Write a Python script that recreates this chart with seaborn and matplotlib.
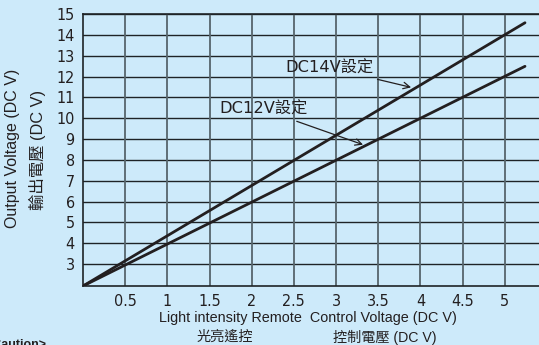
"""Output voltage vs. light intensity remote control voltage."""

import matplotlib.pyplot as plt
import seaborn as sns
import numpy as np
import pandas as pd

# data
control_v = [0.0, 5.24]
out_14v = [1.95, 14.58]
out_12v = [1.95, 12.49]
x_ticks = [0.5, 1, 1.5, 2, 2.5, 3, 3.5, 4, 4.5, 5]
x_tick_labels = ['0.5', '1', '1.5', '2', '2.5', '3', '3.5', '4', '4.5', '5']
y_ticks = list(range(3, 16))

BG = '#cdeafa'
LINE = '#231f20'

sns.set_style('white')
plt.rcParams['font.family'] = ['Liberation Sans', 'Noto Sans CJK TC']

df = pd.DataFrame({
    'x': control_v * 2,
    'y': out_14v + out_12v,
    'series': ['DC14V'] * 2 + ['DC12V'] * 2,
})

fig = plt.figure(figsize=(5.39, 3.45), dpi=100, facecolor=BG)
ax = fig.add_axes([83 / 539, 1 - 286 / 345, 1 - 83 / 539 + 0.01, (286 - 14) / 345])
ax.set_facecolor(BG)

# grid
for y in y_ticks:
    ax.axhline(y, color='#1e2326', lw=1.0, zorder=1)
for x in x_ticks:
    ax.axvline(x, color='#56656c', lw=1.3, zorder=1)

sns.lineplot(data=df, x='x', y='y', units='series', estimator=None,
             color=LINE, lw=2.0, ax=ax, legend=False, zorder=3)

ax.set_xlim(0, 5.47)
ax.set_ylim(1.95, 15)
ax.set_xticks(x_ticks)
ax.set_xticklabels(x_tick_labels)
ax.set_yticks(y_ticks)
ax.tick_params(length=0, pad=6)
for lab in ax.get_xticklabels() + ax.get_yticklabels():
    lab.set_family('DejaVu Sans')
    lab.set_stretch('condensed')
    lab.set_fontsize(11.5)
    lab.set_color('#231f20')
for side in ['left', 'bottom', 'top']:
    ax.spines[side].set_color('#1e2326')
    ax.spines[side].set_linewidth(1.2)
ax.spines['right'].set_visible(False)
ax.set_xlabel('')
ax.set_ylabel('')

# annotations
ann_font = ['DejaVu Sans', 'Noto Sans CJK TC']
ax.annotate('DC14V設定', xy=(3.89, 11.48), xytext=(3.44, 12.42),
            ha='right', va='center', fontsize=11.7, family=ann_font, color='#231f20',
            arrowprops=dict(arrowstyle='->', color='#231f20', lw=0.9,
                            shrinkA=2, shrinkB=0))
ax.annotate('DC12V設定', xy=(3.32, 8.73), xytext=(2.66, 10.42),
            ha='right', va='center', fontsize=11.7, family=ann_font, color='#231f20',
            arrowprops=dict(arrowstyle='->', color='#231f20', lw=0.9,
                            shrinkA=2, shrinkB=0))

# axis titles
txt = dict(color='#231f20')
fig.text(13 / 539, 1 - 148 / 345, 'Output Voltage (DC V)', rotation=90,
         ha='center', va='center', fontsize=11.5, **txt)
fig.text(37 / 539, 1 - 150 / 345, '輸出電壓 (DC V)', rotation=90,
         ha='center', va='center', fontsize=11.8, **txt)
fig.text(308 / 539, 1 - 318 / 345, 'Light intensity Remote  Control Voltage (DC V)',
         ha='center', va='center', fontsize=10.4, **txt)
fig.text(225 / 539, 1 - 337 / 345, '光亮遙控', ha='center', va='center',
         fontsize=10.2, **txt)
fig.text(385 / 539, 1 - 337 / 345, '控制電壓 (DC V)', ha='center', va='center',
         fontsize=10.2, **txt)
fig.text(46 / 539, -6 / 345, '<Caution>', ha='right', va='bottom',
         fontsize=9, fontweight='bold', color='#231f20')

fig.savefig('out.png', dpi=100, facecolor=BG)
